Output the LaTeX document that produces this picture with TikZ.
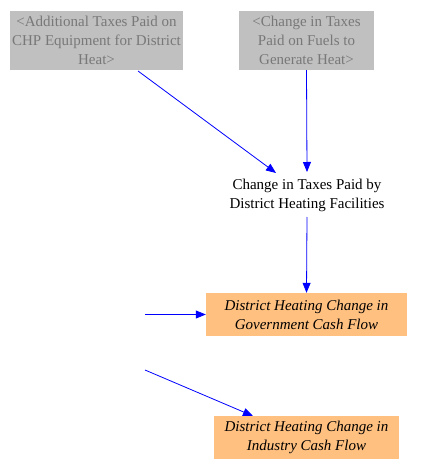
\documentclass[tikz,border=0pt]{standalone}
\usepackage{fontspec}
\setmainfont{Liberation Serif}
\usetikzlibrary{arrows.meta}
\definecolor{grayfill}{RGB}{192,192,192}
\definecolor{graytext}{RGB}{120,120,120}
\definecolor{orangefill}{RGB}{255,192,128}
\definecolor{arrowblue}{RGB}{0,0,255}
\begin{document}
\begin{tikzpicture}[x=1pt,y=-1pt,
  shadowvar/.style={fill=grayfill,text=graytext,align=center,inner sep=0pt,font=\fontsize{15}{19}\selectfont},
  auxvar/.style={align=center,inner sep=0pt,font=\fontsize{15}{19}\selectfont},
  outvar/.style={fill=orangefill,align=center,inner sep=0pt,font=\fontsize{15}{19}\selectfont\itshape},
  link/.style={draw=arrowblue,line width=0.8pt,-{Triangle[length=10pt,width=8pt]}}]
\useasboundingbox (0,0) rectangle (425,470);
\node[shadowvar,minimum width=173pt,minimum height=59pt] (addtax) at (96.5,40.5) {<Additional Taxes Paid on\\CHP Equipment for District\\Heat>};
\node[shadowvar,minimum width=135pt,minimum height=59pt] (fueltax) at (306.5,40.5) {<Change in Taxes\\Paid on Fuels to\\Generate Heat>};
\node[auxvar] (change) at (307,195) {Change in Taxes Paid by\\District Heating Facilities};
\node[outvar,minimum width=201pt,minimum height=43pt] (gov) at (306.5,314.5) {District Heating Change in\\Government Cash Flow};
\node[outvar,minimum width=185pt,minimum height=43pt] (ind) at (306.5,437.5) {District Heating Change in\\Industry Cash Flow};
\coordinate (srcgov) at (145,314.5);
\coordinate (srcind) at (145,370);
\coordinate (addend) at (276,173);
\coordinate (fuelend) at (307,172);
\coordinate (chgstart) at (307,217);
\coordinate (indend) at (253,416);
\draw[link] (138,71) -- (addend);
\draw[link] (fueltax.south) -- (fuelend);
\draw[link] (chgstart) -- (gov.north);
\draw[link] (srcgov) -- (gov.west);
\draw[link] (srcind) -- (indend);
\end{tikzpicture}
\end{document}
